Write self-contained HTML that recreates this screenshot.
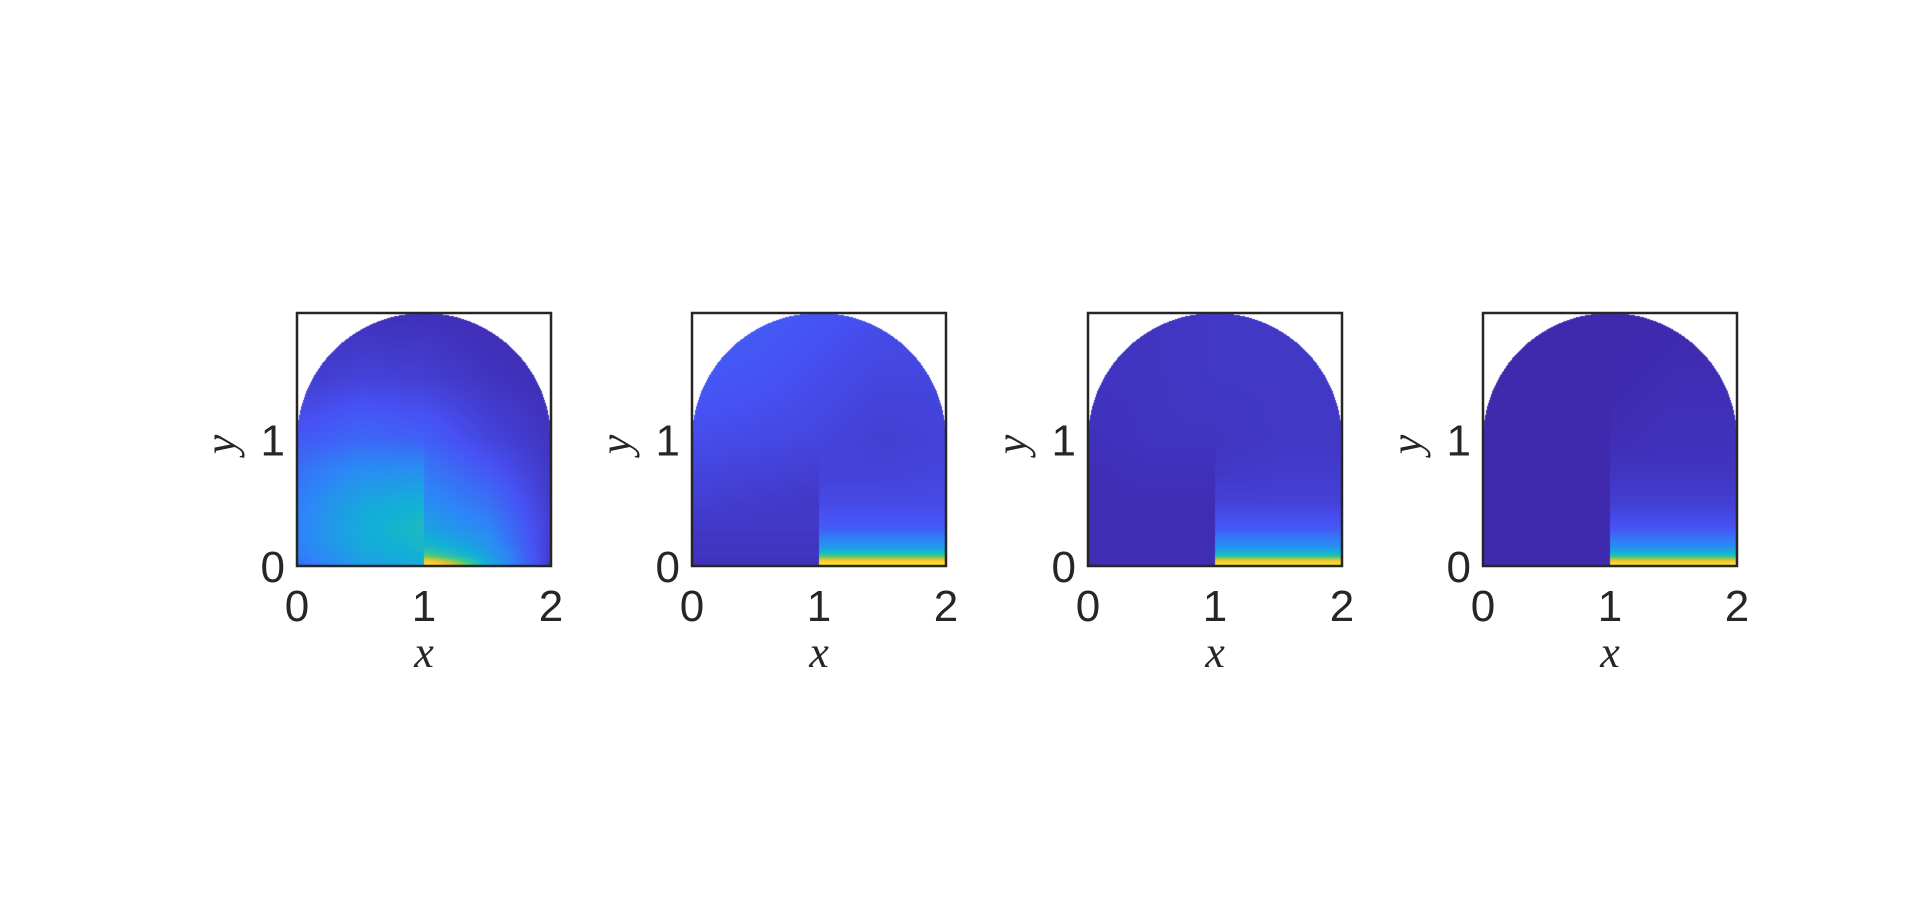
<!DOCTYPE html>
<html><head><meta charset="utf-8">
<style>
html,body{margin:0;padding:0;background:#fff;width:1920px;height:911px;overflow:hidden;font-family:"Liberation Sans",sans-serif;}
#wrap{position:relative;width:1920px;height:911px;}
canvas{position:absolute;}
svg{position:absolute;left:0;top:0;}
</style></head>
<body>
<div id="wrap">
<svg id="ax" width="1920" height="911"></svg>
</div>
<script>
// y sample rows and x columns (x "1-" = left side of x=1, "1+" = right side)
const yRows = [0, 0.03, 0.08, 0.15, 0.3, 0.5, 0.75, 1, 1.5, 2];
const xCols = [0, 0.5, 1, 1, 1.5, 2];
const xTicks = [0, 1, 2];
const yTicks = [0, 1];
const field1 = [
 [0.15,0.3,0.35,1.0,0.35,0.05],
 [0.2,0.32,0.37,0.85,0.35,0.05],
 [0.22,0.33,0.38,0.55,0.33,0.06],
 [0.23,0.35,0.4,0.42,0.3,0.06],
 [0.24,0.36,0.42,0.33,0.25,0.07],
 [0.23,0.34,0.38,0.27,0.2,0.06],
 [0.2,0.27,0.28,0.22,0.14,0.05],
 [0.14,0.18,0.16,0.16,0.09,0.04],
 [0.06,0.08,0.07,0.07,0.04,0.02],
 [0.03,0.03,0.03,0.03,0.02,0.02]];
const field2 = [
 [0.03,0.03,0.03,1,1,1],
 [0.03,0.03,0.03,0.85,0.85,0.85],
 [0.04,0.04,0.04,0.5,0.5,0.5],
 [0.04,0.04,0.04,0.3,0.3,0.3],
 [0.05,0.05,0.05,0.15,0.15,0.15],
 [0.07,0.06,0.05,0.1,0.1,0.1],
 [0.09,0.08,0.07,0.08,0.08,0.09],
 [0.11,0.1,0.09,0.09,0.07,0.08],
 [0.14,0.13,0.11,0.11,0.09,0.09],
 [0.16,0.15,0.13,0.13,0.11,0.1]];
const field3 = [
 [0.02,0.02,0.02,1,1,1],
 [0.02,0.02,0.02,0.82,0.82,0.82],
 [0.02,0.02,0.02,0.45,0.45,0.45],
 [0.02,0.02,0.02,0.28,0.28,0.28],
 [0.02,0.02,0.02,0.14,0.14,0.14],
 [0.02,0.02,0.02,0.08,0.08,0.08],
 [0.02,0.03,0.03,0.05,0.06,0.06],
 [0.03,0.04,0.04,0.04,0.05,0.05],
 [0.04,0.04,0.05,0.05,0.05,0.05],
 [0.04,0.04,0.05,0.05,0.05,0.05]];
const field4 = [
 [0.01,0.01,0.01,1,1,1],
 [0.01,0.01,0.01,0.8,0.8,0.8],
 [0.01,0.01,0.01,0.45,0.45,0.45],
 [0.01,0.01,0.01,0.27,0.27,0.27],
 [0.01,0.01,0.01,0.13,0.13,0.13],
 [0.01,0.01,0.01,0.07,0.07,0.07],
 [0.01,0.01,0.01,0.04,0.04,0.04],
 [0.01,0.01,0.01,0.02,0.03,0.03],
 [0.01,0.01,0.01,0.01,0.02,0.02],
 [0.01,0.01,0.01,0.01,0.01,0.01]];
const fields = [field1, field2, field3, field4];

const parula = [[62,38,168],[71,82,244],[45,135,247],[18,177,214],[55,200,151],[171,199,57],[254,195,56],[245,220,40],[249,251,20]];
function cmap(v){v=Math.max(0,Math.min(1,v));const t=v*(parula.length-1);const i=Math.min(parula.length-2,Math.floor(t));const f=t-i;
 return parula[i].map((c,k)=>Math.round(c+(parula[i+1][k]-c)*f));}
function interp1(arr, vals, t){for(let i=0;i<arr.length-1;i++){if(t<=arr[i+1]){const f=(t-arr[i])/(arr[i+1]-arr[i]||1);return vals[i]+(vals[i+1]-vals[i])*f;}}return vals[vals.length-1];}
function sample(F,x,y){
 const left = x<1;
 const cx = left?[0,0.5,1]:[1,1.5,2];
 const ci = left?[0,1,2]:[3,4,5];
 const colVals = ci.map(c=>interp1(yRows, F.map(r=>r[c]), y));
 return interp1(cx, colVals, x);
}
const svg=document.getElementById('ax');
const NS='http://www.w3.org/2000/svg';
const W=254,H=253,TOP=313;
const lefts=[297,692,1088,1483];
fields.forEach((F,p)=>{
 const L=lefts[p];
 const sx=v=>L+v/2*W, sy=v=>TOP+H-v/2*H;
 const cv=document.createElement('canvas');
 
 
 cv.width=W;cv.height=H;cv.style.left=L+'px';cv.style.top=TOP+'px';
 document.getElementById('wrap').insertBefore(cv,svg);
 const ctx=cv.getContext('2d');const img=ctx.createImageData(W,H);
 for(let j=0;j<H;j++)for(let i=0;i<W;i++){
  const x=(i+0.5)/W*2,y=2-(j+0.5)/H*2;
  if(y>1&&((x-1)**2+(y-1)**2>1))continue;
  const c=cmap(sample(F,x,y));const o=(j*W+i)*4;
  img.data[o]=c[0];img.data[o+1]=c[1];img.data[o+2]=c[2];img.data[o+3]=255;}
 ctx.putImageData(img,0,0);
 const g=document.createElementNS(NS,'g');
 
 
 svg.appendChild(g);
 const r=document.createElementNS(NS,'rect');
 r.setAttribute('x',L);r.setAttribute('y',TOP);r.setAttribute('width',W);r.setAttribute('height',H);
 r.setAttribute('fill','none');r.setAttribute('stroke','#262626');r.setAttribute('stroke-width','2.5');
 
 
 g.appendChild(r);
 xTicks.forEach(v=>{const t=document.createElementNS(NS,'text');
  t.setAttribute('x',sx(v));t.setAttribute('y',621);t.setAttribute('text-anchor','middle');
  t.setAttribute('font-size','44');t.setAttribute('fill','#262626');t.textContent=v;
  
  
  g.appendChild(t);});
 yTicks.forEach(v=>{const t=document.createElementNS(NS,'text');
  t.setAttribute('x',L-12);t.setAttribute('y',sy(v)+16);t.setAttribute('text-anchor','end');
  t.setAttribute('font-size','44');t.setAttribute('fill','#262626');t.textContent=v;
  
  
  g.appendChild(t);});
 const xl=document.createElementNS(NS,'text');
 xl.setAttribute('x',L+W/2);xl.setAttribute('y',667);xl.setAttribute('text-anchor','middle');
 xl.setAttribute('font-size','44');xl.setAttribute('font-style','italic');xl.setAttribute('font-family','Liberation Serif, serif');
 xl.setAttribute('fill','#262626');xl.textContent='x';
 
 
 g.appendChild(xl);
 const yl=document.createElementNS(NS,'text');
 const yx=L-62,yy=sy(1)+5;
 yl.setAttribute('x',yx);yl.setAttribute('y',yy);yl.setAttribute('text-anchor','middle');
 yl.setAttribute('transform','rotate(-90 '+yx+' '+yy+')');
 yl.setAttribute('font-size','44');yl.setAttribute('font-style','italic');yl.setAttribute('font-family','Liberation Serif, serif');
 yl.setAttribute('fill','#262626');yl.textContent='y';
 
 
 g.appendChild(yl);
});
</script>
</body></html>
